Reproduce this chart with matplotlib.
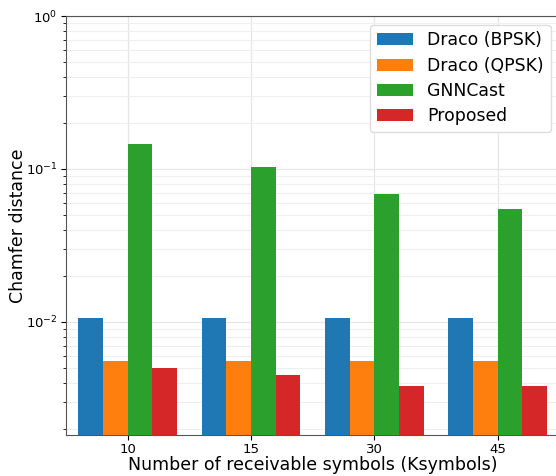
import numpy as np
import matplotlib
matplotlib.use("Agg")
import matplotlib.pyplot as plt

# data
symbols = ["10", "15", "30", "45"]
draco_bpsk = [0.0106, 0.0106, 0.0106, 0.0106]
draco_qpsk = [0.00556, 0.00556, 0.00556, 0.00556]
gnncast = [0.146, 0.103, 0.0687, 0.0548]
proposed = [0.0050, 0.0045, 0.00382, 0.00382]

series = [("Draco (BPSK)", draco_bpsk, "#1f77b4"),
          ("Draco (QPSK)", draco_qpsk, "#ff7f0e"),
          ("GNNCast", gnncast, "#2ca02c"),
          ("Proposed", proposed, "#d62728")]

W, H = 556, 476
fig = plt.figure(figsize=(W / 100, H / 100), dpi=100)
ax = fig.add_axes([66 / W, 1 - 435 / H, (559.5 - 66) / W, (435 - 16) / H])

x = np.arange(len(symbols))
width = 0.2
for i, (label, vals, color) in enumerate(series):
    ax.bar(x + (i - 1.5) * width, vals, width, label=label, color=color, zorder=3)

ax.set_yscale("log")
ax.set_ylim(0.00182, 1)
ax.set_xlim(-0.5, 3.5)
ax.set_xticks(x)
ax.set_xticklabels(symbols)
ax.tick_params(labelsize=9.5, pad=2.5)
ax.tick_params(axis="y", which="minor", length=2.5)
ax.set_xlabel("Number of receivable symbols (Ksymbols)", fontsize=12.5, labelpad=0)
ax.set_ylabel("Chamfer distance", fontsize=12.5)
# label anchor is its right edge once rotated
ax.yaxis.set_label_coords(-0.079, 0.5)

ax.grid(True, which="major", color="#e6e6e6", linewidth=0.9, zorder=0)
ax.grid(True, which="minor", axis="y", color="#efefef", linewidth=0.8, zorder=0)
for s in ax.spines.values():
    s.set_color("#555555")

ax.legend(loc="upper right", fontsize=12.4, framealpha=1, edgecolor="#dddddd",
          borderaxespad=0.5, handlelength=2.1, handletextpad=0.85, labelspacing=0.42)

fig.savefig("out.png", dpi=100)
